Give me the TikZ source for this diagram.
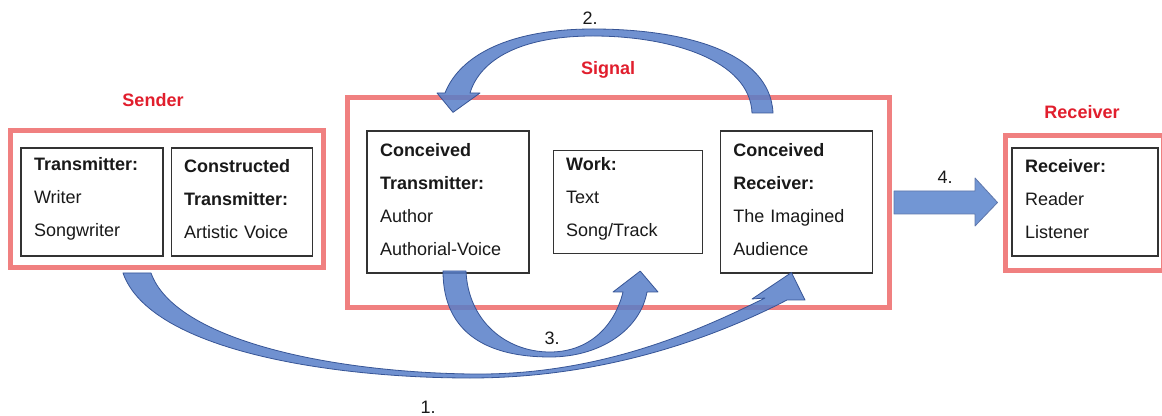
\documentclass[tikz,border=0pt]{standalone}
\usepackage{fontspec}
\setmainfont{Liberation Sans}
\usetikzlibrary{positioning, calc}
\definecolor{framered}{RGB}{240,128,128}
\definecolor{labelred}{RGB}{225,30,45}
\definecolor{arrowblue}{RGB}{88,126,200}
\definecolor{arrowedge}{RGB}{55,85,150}
\definecolor{flatblue}{RGB}{114,150,212}
\tikzset{
    every node/.style={font=\fontsize{13.5}{24.75}\selectfont, text=black!90},
    redframe/.style={draw=framered, line width=3.75pt, inner sep=0pt},
    title/.style={font=\fontsize{13.5}{16}\selectfont\bfseries, text=labelred},
    textbox/.style={draw=black!80, line width=0.9pt, fill=white, inner xsep=9.75pt, inner ysep=0pt, align=left, text width=#1, execute at end node={\par\vspace{4pt}}},
    fatarrow/.style={fill=arrowblue, fill opacity=0.85, draw=arrowedge, line width=0.6pt, line join=round},
    flatarrow/.style={fill=flatblue, draw=arrowedge!80, line width=0.6pt, line join=round},
}

\begin{document}
\begin{tikzpicture}[x=0.75pt, y=-0.75pt]
\fill[white] (0,0) rectangle (1162,416);
\useasboundingbox (0,0) rectangle (1162,416);

% the three red frames and their titles
\node[redframe, minimum width=234.75pt, minimum height=102.75pt] (sendbox) at (166.5,199.5) {};
\node[redframe, minimum width=406.5pt, minimum height=156.75pt] (signalbox) at (618,202.5) {};
\node[redframe, minimum width=118.5pt, minimum height=101.25pt] (recvbox) at (1084,203.5) {};
\node[title] (sendlbl) at (153,100) {Sender};
\node[title] (signallbl) at (608,70) {Signal};
\node[title] (recvlbl) at (1082,112) {Receiver};

% sender
\node[textbox=87pt, minimum height=81pt] (writer) at (92,202) {\textbf{Transmitter:}\\Writer\\Songwriter};
\node[textbox=86.25pt, minimum height=81pt, right=5.25pt of writer] (voice) {\textbf{Constructed}\\\textbf{Transmitter:}\\Artistic Voice};

% signal
\node[textbox=102pt, minimum height=106.5pt] (author) at (448,202) {\textbf{Conceived}\\\textbf{Transmitter:}\\Author\\Authorial-Voice};
\node[textbox=92.25pt, minimum height=77.25pt, right=17.25pt of author] (work) {\textbf{Work:}\\Text\\Song/Track};
\node[textbox=94.5pt, minimum height=106.5pt, right=12.75pt of work] (audience) {\textbf{Conceived}\\\textbf{Receiver:}\\The Imagined\\Audience};

% receiver
\node[textbox=90pt, minimum height=81pt] (reader) at (1085,202) {\textbf{Receiver:}\\Reader\\Listener};

% arrow tips
\coordinate (tip1) at ($(audience.south)+(-5,-1)$);
\coordinate (tip2) at ($(author.north)+(5,-18)$);
\coordinate (tip3) at ($(work.south)+(12.5,17)$);
\coordinate (tip4) at ($(recvbox.west)+(-5,-1)$);

% 3. transmitter -> work
\draw[fatarrow] (443,271) .. controls (443,335) and (490,357) .. (550,357)
    .. controls (600,357) and (640,330) .. (647,292)
    -- (658,292) -- (tip3) -- (613,292) -- (623,292)
    .. controls (615,325) and (590,352) .. (550,352)
    .. controls (505,352) and (468,320) .. (466,271) -- cycle;
% 1. sender -> conceived receiver
\draw[fatarrow] (123,273) .. controls (150,350) and (330,378) .. (470,378)
    .. controls (600,378) and (710,340) .. (787,300)
    -- (805,300) -- (tip1) -- (752,299) -- (765,298)
    .. controls (700,330) and (600,376) .. (470,374)
    .. controls (330,372) and (175,340) .. (151,273) -- cycle;
% 2. conceived receiver -> conceived transmitter
\draw[fatarrow] (773,113) .. controls (770,50) and (680,29) .. (593,29)
    .. controls (510,29) and (460,55) .. (445,93)
    -- (437,93) -- (tip2) -- (480,93) -- (470,93)
    .. controls (480,60) and (520,36) .. (593,36)
    .. controls (670,36) and (750,60) .. (752,113) -- cycle;
% 4. signal -> receiver
\draw[flatarrow] (894,191) -- (975,191) -- (975,178) -- (tip4)
    -- (975,226) -- (975,214) -- (894,214) -- cycle;

\node (n1) at (428,407) {1.};
\node (n2) at (590,18) {2.};
\node (n3) at (552,338) {3.};
\node (n4) at (945,177) {4.};
\end{tikzpicture}
\end{document}
